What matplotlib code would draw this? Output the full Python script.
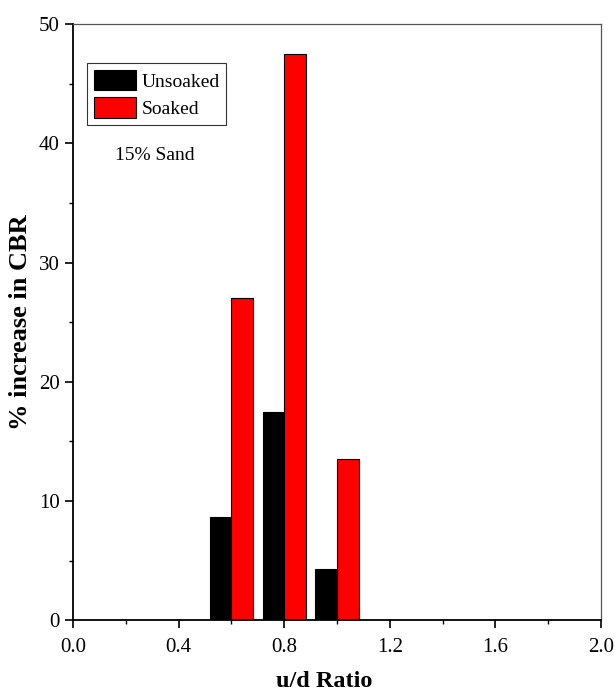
import matplotlib.pyplot as plt
import numpy as np
from matplotlib.ticker import MultipleLocator

ratio = [0.6, 0.8, 1.0]
unsoaked = [8.7, 17.5, 4.3]
soaked = [27.0, 47.5, 13.5]

plt.rcParams['font.family'] = ['Liberation Serif', 'DejaVu Serif']

fig = plt.figure(figsize=(6.15, 6.93), dpi=100)
ax = fig.add_axes([0.119, 0.105, 0.858, 0.86])

x = np.array(ratio)
w = 0.082
ax.bar(x - w / 2, unsoaked, w, color='black', edgecolor='black', linewidth=0.8, label='Unsoaked')
ax.bar(x + w / 2, soaked, w, color='#ff0000', edgecolor='black', linewidth=0.8, label='Soaked')

ax.set_xlim(0, 2.0)
ax.set_ylim(0, 50)
ax.xaxis.set_major_locator(MultipleLocator(0.4))
ax.xaxis.set_minor_locator(MultipleLocator(0.2))
ax.yaxis.set_major_locator(MultipleLocator(10))
ax.yaxis.set_minor_locator(MultipleLocator(5))
ax.xaxis.set_major_formatter(plt.FormatStrFormatter('%.1f'))
ax.tick_params(which='major', direction='out', length=6, width=1.2, labelsize=15)
ax.tick_params(axis='x', which='major', pad=7)
ax.tick_params(which='minor', direction='out', length=3, width=1)

for s in ['left', 'bottom']:
    ax.spines[s].set_linewidth(1.3)
for s in ['top', 'right']:
    ax.spines[s].set_color('#555555')
    ax.spines[s].set_linewidth(0.9)

ax.set_xlabel('u/d Ratio', fontsize=17.5, fontweight='bold')
ax.xaxis.set_label_coords(0.475, -0.085)
ax.set_ylabel('% increase in CBR', fontsize=19, fontweight='bold')
ax.yaxis.set_label_coords(-0.078, 0.5)

leg = ax.legend(loc='upper left', bbox_to_anchor=(0.026, 0.935), fontsize=14,
                frameon=True, fancybox=False, edgecolor='black',
                handlelength=2.2, handleheight=1.25, handletextpad=0.25,
                borderpad=0.35, labelspacing=0.35, borderaxespad=0)
leg.get_frame().set_linewidth(0.8)

ax.text(0.155, 0.78, '15% Sand', transform=ax.transAxes, fontsize=14, ha='center', va='center')

fig.savefig('out.png', dpi=100)
